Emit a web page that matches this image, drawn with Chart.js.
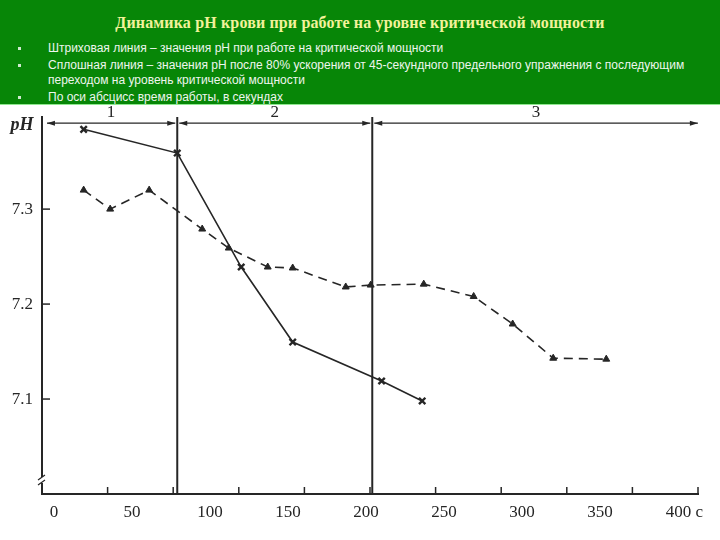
<!DOCTYPE html>
<html>
<head>
<meta charset="utf-8">
<script src="https://cdn.jsdelivr.net/npm/chart.js@4/dist/chart.umd.min.js"></script>
<style>
  html, body { margin: 0; padding: 0; background: #fff; }
  #wrap { position: relative; width: 720px; height: 540px; overflow: hidden; }
  #grafico { position: absolute; left: 0; top: 0; }
  #cabecalho {
    position: absolute; left: 0; top: 0; width: 720px; height: 104px;
    background: #078607; border-bottom: 1px solid #8fe88f;
  }
  #cabecalho h1 {
    margin: 0; position: absolute; left: 0; top: 14px; width: 720px;
    text-align: center; font: bold 16px "Liberation Serif", serif; color: #f2f29a;
    letter-spacing: 0.15px;
  }
  #cabecalho ul { margin: 0; padding: 0; list-style: none; position: absolute; left: 0; top: 41px; }
  #cabecalho li {
    position: relative; padding-left: 48px; font: 12px "Liberation Sans", Arial, sans-serif;
    color: #eef6ee; line-height: 15px; margin-bottom: 2px;
  }
  #cabecalho li:before {
    content: ""; position: absolute; left: 18px; top: 6px; width: 3px; height: 3px; background: #cfe9cf;
  }
</style>
</head>
<body>
<div id="wrap">
  <canvas id="grafico" width="720" height="540"></canvas>
  <div id="cabecalho">
    <h1>Динамика рН крови при работе на уровне критической мощности</h1>
    <ul>
      <li>Штриховая линия – значения рН при работе на критической мощности</li>
      <li>Сплошная линия – значения рН после 80% ускорения от 45-секундного предельного упражнения с последующим<br>переходом на уровень критической мощности</li>
      <li>По оси абсцисс время работы, в секундах</li>
    </ul>
  </div>
</div>
<script>
// dados
var solidX  = [19, 79, 120, 153, 210, 236];
var solidPH = [7.384, 7.359, 7.239, 7.160, 7.119, 7.098];

var dashX  = [19, 36, 61, 95, 112, 137, 153, 187, 203, 237, 269, 294, 320, 354];
var dashPH = [7.320, 7.300, 7.320, 7.279, 7.259, 7.239, 7.238, 7.218, 7.220, 7.221, 7.208, 7.179, 7.143, 7.142];

var xLabels = [0, 50, 100, 150, 200, 250, 300, 350, 400];
var yLabels = [7.1, 7.2, 7.3];
var phaseBounds = [-5.8, 79, 204, 414];
var phaseNames = ['1', '2', '3'];

var tinta = '#262626';

function pontos(xs, ys) {
  return xs.map(function (x, i) { return { x: x, y: ys[i] }; });
}

var decorPlugin = {
  id: 'decor',
  afterDraw: function (chart) {
    var ctx = chart.ctx;
    var xs = chart.scales.x, ys = chart.scales.y, xt = chart.scales.xt;
    var area = chart.chartArea;
    ctx.save();
    ctx.strokeStyle = tinta;
    ctx.fillStyle = tinta;

    // tracinhos para dentro no eixo x
    ctx.lineWidth = 1.5;
    xt.ticks.forEach(function (t) {
      var px = xt.getPixelForValue(t.value);
      ctx.beginPath();
      ctx.moveTo(px, area.bottom);
      ctx.lineTo(px, area.bottom - 7);
      ctx.stroke();
    });
    // tracinhos para dentro no eixo y
    ys.ticks.forEach(function (t) {
      var py = ys.getPixelForValue(t.value);
      ctx.beginPath();
      ctx.moveTo(area.left, py);
      ctx.lineTo(area.left + 8, py);
      ctx.stroke();
    });

    // linhas das fases
    ctx.lineWidth = 2;
    [phaseBounds[1], phaseBounds[2]].forEach(function (v) {
      var px = xs.getPixelForValue(v);
      ctx.beginPath();
      ctx.moveTo(px, area.top);
      ctx.lineTo(px, area.bottom);
      ctx.stroke();
    });

    // setas das fases
    var yArrow = ys.getPixelForValue(7.3905);
    ctx.lineWidth = 1.3;
    ctx.font = '17px "Liberation Serif", serif';
    ctx.textAlign = 'center';
    ctx.textBaseline = 'middle';
    for (var i = 0; i < 3; i++) {
      var a = xs.getPixelForValue(phaseBounds[i]) + 2;
      var b = xs.getPixelForValue(phaseBounds[i + 1]) - 2;
      ctx.beginPath();
      ctx.moveTo(a, yArrow);
      ctx.lineTo(b, yArrow);
      ctx.stroke();
      ctx.beginPath();
      ctx.moveTo(a, yArrow);
      ctx.lineTo(a + 8, yArrow - 2.5);
      ctx.lineTo(a + 8, yArrow + 2.5);
      ctx.closePath();
      ctx.fill();
      ctx.beginPath();
      ctx.moveTo(b, yArrow);
      ctx.lineTo(b - 8, yArrow - 2.5);
      ctx.lineTo(b - 8, yArrow + 2.5);
      ctx.closePath();
      ctx.fill();
      ctx.fillText(phaseNames[i], (a + b) / 2, yArrow - 11);
    }

    // titulo do eixo y
    ctx.font = 'italic bold 18px "Liberation Serif", serif';
    ctx.fillText('pH', 22, ys.getPixelForValue(7.388));

    // quebra do eixo
    var yb = area.bottom - 14;
    ctx.fillStyle = '#fff';
    ctx.fillRect(area.left - 2, yb - 3, 4, 6);
    ctx.lineWidth = 1.2;
    ctx.beginPath();
    ctx.moveTo(area.left - 4, yb);
    ctx.lineTo(area.left + 3, yb - 5);
    ctx.moveTo(area.left - 4, yb + 5);
    ctx.lineTo(area.left + 3, yb);
    ctx.stroke();

    ctx.restore();
  }
};

var grafico = new Chart(document.getElementById('grafico'), {
  type: 'line',
  data: {
    datasets: [
      {
        label: 'Сплошная',
        data: pontos(solidX, solidPH),
        borderColor: tinta,
        borderWidth: 1.6,
        pointStyle: 'crossRot',
        pointRadius: 4.5,
        pointBorderWidth: 2.4,
        pointBorderColor: tinta,
        fill: false
      },
      {
        label: 'Штриховая',
        data: pontos(dashX, dashPH),
        borderColor: tinta,
        borderWidth: 1.6,
        borderDash: [9, 6],
        pointStyle: 'triangle',
        pointRadius: 4,
        pointBackgroundColor: tinta,
        pointBorderColor: tinta,
        pointBorderWidth: 1,
        fill: false
      }
    ]
  },
  options: {
    responsive: false,
    animation: false,
    layout: { padding: { left: 0, right: 22, top: 117, bottom: 0 } },
    plugins: { legend: { display: false }, tooltip: { enabled: false } },
    scales: {
      x: {
        type: 'linear',
        position: 'bottom',
        min: -7.7,
        max: 412.8,
        afterBuildTicks: function (scale) {
          scale.ticks = xLabels.map(function (v) { return { value: v }; });
        },
        afterFit: function (scale) { scale.height = 46; },
        grid: { drawOnChartArea: false, drawTicks: false },
        border: { display: true, color: tinta, width: 2 },
        ticks: {
          padding: 8,
          color: tinta,
          font: { family: '"Liberation Serif", serif', size: 17 },
          maxRotation: 0,
          autoSkip: false,
          callback: function (v) { return v === 400 ? '   400 c' : String(v); }
        }
      },
      xt: {
        type: 'linear',
        position: 'bottom',
        display: false,
        min: 0,
        max: 10,
        ticks: { stepSize: 1 }
      },
      y: {
        min: 7.0,
        max: 7.397,
        afterBuildTicks: function (scale) {
          scale.ticks = yLabels.map(function (v) { return { value: v }; });
        },
        afterFit: function (scale) { scale.width = 42; },
        grid: { drawOnChartArea: false, drawTicks: false },
        border: { display: true, color: tinta, width: 2 },
        ticks: {
          padding: 9,
          color: tinta,
          font: { family: '"Liberation Serif", serif', size: 17 },
          callback: function (v) { return v.toFixed(1); }
        }
      }
    }
  },
  plugins: [decorPlugin]
});
</script>
</body>
</html>
